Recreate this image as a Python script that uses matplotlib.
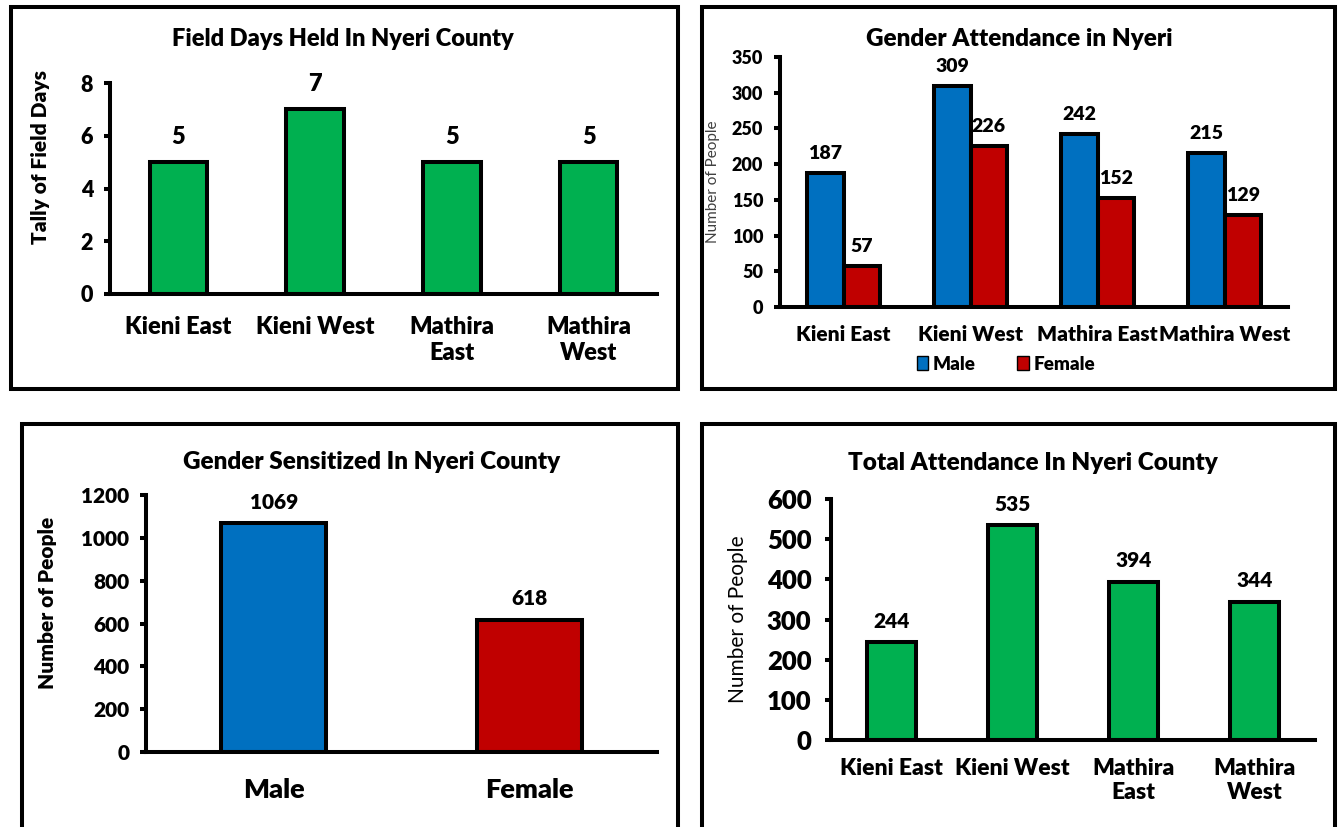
import matplotlib
matplotlib.use("Agg")
import matplotlib.pyplot as plt
from matplotlib.patches import Rectangle, Patch

plt.rcParams['font.family'] = ['Lato', 'DejaVu Sans']
BOLD = 'heavy'
plt.rcParams['font.weight'] = BOLD

# Data for the four county charts
regions = ['Kieni East', 'Kieni West', 'Mathira East', 'Mathira West']
field_days = [5, 7, 5, 5]
male_attendance = [187, 309, 242, 215]
female_attendance = [57, 226, 152, 129]
genders = ['Male', 'Female']
sensitized = [1069, 618]
total_attendance = [244, 535, 394, 344]

GREEN = '#00B050'
BLUE = '#0070C0'
RED = '#C00000'
LW = 2.9

W, H = 1343, 827
fig = plt.figure(figsize=(W / 100, H / 100), dpi=100)


# Place things using pixel positions (origin top-left)
def px_axes(x0, y0, x1, y1):
    return fig.add_axes([x0 / W, 1 - y1 / H, (x1 - x0) / W, (y1 - y0) / H])


def px_text(x, y, s, **kw):
    return fig.text(x / W, 1 - y / H, s, **kw)


def panel_border(x0, y0, x1, y1):
    fig.add_artist(Rectangle((x0 / W, 1 - y1 / H), (x1 - x0) / W, (y1 - y0) / H,
                             transform=fig.transFigure, fill=False,
                             edgecolor='black', lw=LW))


def style_axes(ax, labels, ymax, step, ytick_size, xtick_size, xpad, ypad):
    n = len(labels)
    ax.set_xlim(-0.5, n - 0.5)
    ax.set_ylim(0, ymax)
    ax.set_yticks(range(0, ymax + 1, step))
    ax.set_xticks(range(n), labels)
    for side in ['top', 'right']:
        ax.spines[side].set_visible(False)
    for side in ['left', 'bottom']:
        ax.spines[side].set_linewidth(LW)
        ax.spines[side].set_color('black')
    ax.tick_params(axis='y', length=4, width=LW, pad=ypad, labelsize=ytick_size)
    ax.tick_params(axis='x', length=0, pad=xpad, labelsize=xtick_size)
    for lab in ax.get_xticklabels() + ax.get_yticklabels():
        lab.set_fontweight(BOLD)


def value_labels(ax, xs, vals, size, offset):
    for x, v in zip(xs, vals):
        ax.annotate(str(v), (x, v), xytext=(0, offset), textcoords='offset points',
                    ha='center', va='center', fontsize=size, fontweight=BOLD)


two_line = [r.replace('Mathira ', 'Mathira\n') for r in regions]
xs = list(range(len(regions)))

# Panel 1: field days
panel_border(11, 7, 678, 389)
ax1 = px_axes(110, 83, 657, 294)
ax1.bar(xs, field_days, width=0.42, color=GREEN, edgecolor='black', lw=LW)
style_axes(ax1, two_line, 8, 2, 15.5, 17, 16, 8)
value_labels(ax1, xs, field_days, 17, 18)
px_text(343, 39, 'Field Days Held In Nyeri County', ha='center', va='center',
        fontsize=17, fontweight=BOLD)
px_text(41, 157, 'Tally of Field Days', ha='center', va='center', rotation=90,
        fontsize=15, fontweight=BOLD)

# Panel 2: gender attendance per sub-county
panel_border(702, 7, 1335, 389)
ax2 = px_axes(780, 57, 1288, 307)
bw = 0.29
male_x = [x - bw / 2 for x in xs]
female_x = [x + bw / 2 for x in xs]
ax2.bar(male_x, male_attendance, width=bw, color=BLUE, edgecolor='black', lw=LW)
ax2.bar(female_x, female_attendance, width=bw, color=RED, edgecolor='black', lw=LW)
style_axes(ax2, regions, 350, 50, 13, 15, 13, 8)
value_labels(ax2, male_x, male_attendance, 14, 14)
value_labels(ax2, female_x, female_attendance, 14, 14)
px_text(1019, 39, 'Gender Attendance in Nyeri', ha='center', va='center',
        fontsize=17.5, fontweight=BOLD)
px_text(713, 182, 'Number of People', ha='center', va='center', rotation=90,
        fontsize=11, fontweight='normal', color='#404040')
handles = [Patch(facecolor=BLUE, edgecolor='black', lw=1),
           Patch(facecolor=RED, edgecolor='black', lw=1)]
fig.legend(handles, genders, loc='center', bbox_to_anchor=(1006 / W, 1 - 364 / H),
           ncol=2, frameon=False, handlelength=0.6, handleheight=0.8,
           handletextpad=0.25, columnspacing=2.2,
           prop={'size': 13.5, 'weight': BOLD})

# Panel 3: gender sensitized
panel_border(22, 424, 678, 829)
ax3 = px_axes(146, 495, 657, 752)
ax3.bar(range(len(genders)), sensitized, width=0.41, color=[BLUE, RED],
        edgecolor='black', lw=LW)
style_axes(ax3, genders, 1200, 200, 15, 19.5, 19, 8)
value_labels(ax3, range(len(genders)), sensitized, 15, 15)
px_text(372, 462, 'Gender Sensitized In Nyeri County', ha='center', va='center',
        fontsize=17.5, fontweight=BOLD)
px_text(48, 603, 'Number of People', ha='center', va='center', rotation=90,
        fontsize=15, fontweight=BOLD)

# Panel 4: total attendance
panel_border(702, 424, 1335, 829)
ax4 = px_axes(831, 499, 1315, 740)
ax4.bar(xs, total_attendance, width=0.4, color=GREEN, edgecolor='black', lw=LW)
style_axes(ax4, two_line, 600, 100, 18.5, 16.5, 13, 10)
value_labels(ax4, xs, total_attendance, 15, 15)
px_text(1033, 463, 'Total Attendance In Nyeri County', ha='center', va='center',
        fontsize=17.5, fontweight=BOLD)
px_text(738, 619, 'Number of People', ha='center', va='center', rotation=90,
        fontsize=15, fontweight='normal')

fig.savefig('out.png', dpi=100)
